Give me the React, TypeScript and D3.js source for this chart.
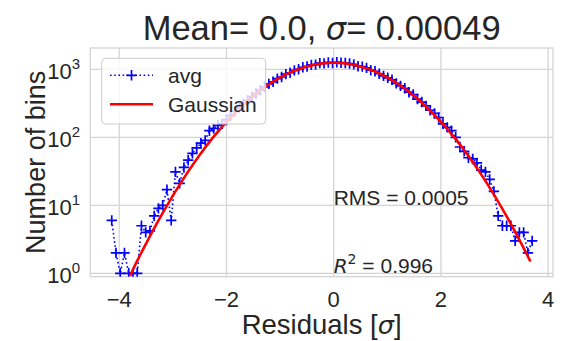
import React from "react";
import * as d3 from "d3";

// ---- data ----
const binStart = -4.14;
const binWidth = 0.0792;
const avgCounts = [
  6, 2, 1, 2, 1, 1, 1, 5, 4, 4.2,
  7, 9, 10, 17, 6, 31, 21, 36, 46, 58,
  70, 82, 90, 125, 135, 150, 158, 180, 210, 240,
  275, 310, 350, 395, 440, 495, 550, 610, 655, 730,
  770, 850, 890, 965, 1000, 1070, 1100, 1160, 1170, 1230,
  1220, 1260, 1240, 1270, 1250, 1235, 1215, 1180, 1110, 1095,
  1050, 970, 935, 860, 800, 750, 700, 620, 570, 525,
  460, 425, 365, 330, 290, 250, 225, 195, 158, 140,
  125, 100, 72, 62, 50, 48, 42, 33, 31, 24,
  16, 7, 5, 5, 5, 3, 4, 4, 2, 3,
];

const gaussX = [
  -3.8, -3.75, -3.5, -3.25, -3, -2.75, -2.5, -2.25, -2, -1.75, -1.5, -1.25, -1, -0.75, -0.5, -0.25,
  0, 0.25, 0.5, 0.75, 1, 1.25, 1.5, 1.75, 2, 2.25, 2.5, 2.75, 3, 3.25, 3.5, 3.67,
];
const gaussY = [
  0.91, 1.11, 2.74, 6.36, 13.9, 28.5, 54.9, 99.5, 169, 270, 406, 572, 758, 944, 1103, 1211,
  1250, 1211, 1103, 944, 758, 572, 406, 270, 169, 99.5, 54.9, 28.5, 13.9, 6.36, 2.74, 1.49,
];

const xTicks = [-4, -2, 0, 2, 4];
const yTicks = [1, 10, 100, 1000];
const yTickExp = ["0", "1", "2", "3"];

const title = "Mean= 0.0, ";
const titleTail = "= 0.00049";
const rmsText = "RMS = 0.0005";
const r2Text = " = 0.996";
const legendLabels = ["avg", "Gaussian"];

// ---- layout ----
const W = 571;
const H = 341;
const L = 90.3;
const R = 553;
const T = 48;
const B = 276.7;

const FONT = "'Liberation Sans', Arial, Helvetica, sans-serif";
const TXT = "#262626";
const GRID = "#d4d4d4";

export default function App() {
  const x = d3.scaleLinear().domain([-4.54, 4.09]).range([L, R]);
  const y = d3
    .scaleLog()
    .domain([Math.pow(10, -0.05), Math.pow(10, 3.313)])
    .range([B, T]);

  const avgPts: [number, number][] = avgCounts.map((c, i) => [binStart + i * binWidth, c]);
  const line = d3
    .line<[number, number]>()
    .x((d) => x(d[0]))
    .y((d) => y(d[1]));
  const gLine = d3
    .line<[number, number]>()
    .x((d) => x(d[0]))
    .y((d) => y(d[1]))
    .curve(d3.curveMonotoneX);
  const gaussPts: [number, number][] = gaussX.map((v, i) => [v, gaussY[i]]);

  const cx = (L + R) / 2;
  const cy = (T + B) / 2;
  const ms = 5.2;

  const plus = (px: number, py: number, k: string | number) => (
    <path
      key={k}
      d={`M${px - ms},${py}H${px + ms}M${px},${py - ms}V${py + ms}`}
      stroke="#0000ff"
      strokeWidth={1.7}
      fill="none"
    />
  );

  return (
    <svg
      width={W}
      height={H}
      style={{ position: "absolute", left: 0, top: 0, background: "#fff" }}
      fontFamily={FONT}
    >
      <defs>
        <clipPath id="plotclip">
          <rect x={L} y={T} width={R - L} height={B - T} />
        </clipPath>
      </defs>
      <rect x={0} y={0} width={W} height={H} fill="#fff" />

      {/* grid */}
      {xTicks.map((t) => (
        <line key={"gx" + t} x1={x(t)} x2={x(t)} y1={T} y2={B} stroke={GRID} strokeWidth={1.3} />
      ))}
      {yTicks.map((t) => (
        <line key={"gy" + t} x1={L} x2={R} y1={y(t)} y2={y(t)} stroke={GRID} strokeWidth={1.3} />
      ))}
      <rect x={L} y={T} width={R - L} height={B - T} fill="none" stroke={GRID} strokeWidth={1.3} />

      {/* avg series */}
      <g clipPath="url(#plotclip)">
        <path
          d={line(avgPts) || ""}
          fill="none"
          stroke="#0000ff"
          strokeWidth={1.6}
          strokeDasharray="1.6 2.6"
        />
        {avgPts.map((p, i) => plus(x(p[0]), y(p[1]), i))}
        <path d={gLine(gaussPts) || ""} fill="none" stroke="#ff0000" strokeWidth={2.6} />
      </g>

      {/* x ticks */}
      {xTicks.map((t) => (
        <text key={"xt" + t} x={x(t)} y={307} textAnchor="middle" fontSize={22} fill={TXT}>
          {t < 0 ? "\u2212" + Math.abs(t) : String(t)}
        </text>
      ))}
      {/* y ticks */}
      {yTicks.map((t, i) => (
        <text key={"yt" + t} x={80} y={y(t) + 9.5} textAnchor="end" fontSize={22} fill={TXT}>
          10
          <tspan dy={-10} fontSize={15}>
            {yTickExp[i]}
          </tspan>
        </text>
      ))}

      {/* annotations */}
      <text x={x(0)} y={y(10)} fontSize={21} fill={TXT}>
        {rmsText}
      </text>
      <text x={x(0)} y={y(1)} fontSize={21} fill={TXT}>
        <tspan fontFamily="'DejaVu Sans'" fontStyle="italic" fontSize={20}>
          R
        </tspan>
        <tspan dy={-9} fontFamily="'DejaVu Sans'" fontSize={14}>
          2
        </tspan>
        <tspan dy={9}>{r2Text}</tspan>
      </text>

      {/* title */}
      <text x={cx} y={40} textAnchor="middle" fontSize={34.5} fill={TXT}>
        {title}
        <tspan fontFamily="'DejaVu Sans'" fontStyle="italic" fontSize={32}>
          σ
        </tspan>
        {titleTail}
      </text>

      {/* axis labels */}
      <text x={cx} y={334} textAnchor="middle" fontSize={27.5} fill={TXT}>
        Residuals [
        <tspan fontFamily="'DejaVu Sans'" fontStyle="italic" fontSize={25.5}>
          σ
        </tspan>
        ]
      </text>
      <text
        transform={`translate(45,${cy}) rotate(-90)`}
        textAnchor="middle"
        fontSize={27}
        fill={TXT}
      >
        Number of bins
      </text>

      {/* legend */}
      <rect
        x={101.7}
        y={58.3}
        width={164}
        height={65.7}
        rx={4}
        fill="#fff"
        fillOpacity={0.8}
        stroke="#cccccc"
        strokeWidth={1}
      />
      <line
        x1={110}
        x2={153}
        y1={75.3}
        y2={75.3}
        stroke="#0000ff"
        strokeWidth={1.6}
        strokeDasharray="1.6 2.6"
      />
      {plus(131.5, 75.3, "leg")}
      <text x={168} y={83} fontSize={21} fill={TXT}>
        {legendLabels[0]}
      </text>
      <line x1={110} x2={153} y1={104.3} y2={104.3} stroke="#ff0000" strokeWidth={2.6} />
      <text x={168} y={111.8} fontSize={21} fill={TXT}>
        {legendLabels[1]}
      </text>
    </svg>
  );
}
